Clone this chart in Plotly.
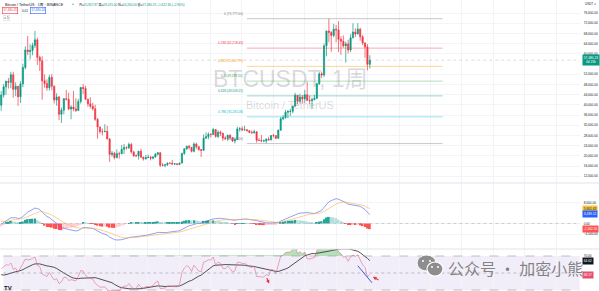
import numpy as np
import pandas as pd
import plotly.graph_objects as go
from plotly.subplots import make_subplots

W, H = 600, 291

# ---------------------------------------------------------------- data
symbol_title = "Bitcoin / TetherUS · 1周 · BINANCE"
watermark_symbol = "BTCUSDT, 1周"
watermark_name = "Bitcoin / TetherUS"
first_week = "2021-08-02"
countdown = "4d 23h"

# weekly closes before the first drawn bar, only used to seed MACD / RSI
warmup_closes = [10680, 10920, 10780, 10670, 11390, 11500, 13030, 13760, 15480, 15960,
                 18410, 18180, 19150, 19270, 23840, 26280, 32180, 38150, 35830, 32260,
                 33090, 38900, 48580, 57410, 45140, 51200, 59000, 57350, 55780, 58200,
                 59770, 56150, 49070, 56620, 58240, 46430, 34660, 35660, 35800, 39100,
                 35500, 34700, 35290, 34260, 31780, 35400, 39850]

opens = [39850, 43800, 47050, 49260, 48810, 51750, 46060, 47260, 43160, 48200, 54660, 61530,
         60850, 61300, 63270, 65470, 58620, 57270, 49400, 48380, 46680, 50780,
         47290, 41860, 43070, 36280, 37900, 42400, 42200, 38350, 39110, 38400, 37780, 41260,
         46820, 46400, 42150, 40380, 39450, 38470, 34300, 31300, 29450, 29450, 29580, 26570,
         20550, 21030, 19300, 20830, 20780, 22580, 23300, 23170, 24440, 21530, 20050, 19990,
         21830, 19420, 18800, 19310, 19420, 19070, 19570, 20630, 21150, 16330, 16280, 16460,
         17110, 17100, 16740, 16840,
         16610, 17130, 20880, 22710, 23740, 23320, 21770, 24630, 23550, 22430, 22130, 26910,
         27470, 28450, 28330, 30300, 27590, 29230, 28880, 26920, 26750, 28070, 27100, 25850,
         26340, 30540, 30580, 30170, 30230, 29870, 29180, 29040, 29410, 26100, 26040, 25830,
         25840, 26530, 26250, 27970, 27920, 26850, 29990, 34500, 35020, 37060, 37380, 37450,
         39460, 43770, 41350, 43000,
         42280, 43930, 41730, 41580, 42030, 42580, 48300, 52140, 51730, 63110, 68960, 68390,
         67210, 69650, 69360, 65660, 64940, 63120, 63890, 61480, 66270, 68510, 67770, 69650,
         66680, 64260, 62680, 55857.87]
highs = [45300, 48140, 49380, 50500, 52920, 52920, 48840, 47380, 49230, 56100, 62930, 67000,
         63700, 64270, 69000, 66340, 59270, 59040, 51940, 50000, 51800, 52090,
         47570, 44500, 43500, 38920, 42660, 45820, 44760, 39840, 45400, 42590, 42330, 47000,
         48190, 47440, 42400, 42980, 40790, 40020, 34800, 31400, 30670, 32400, 31770, 26880,
         21870, 21540, 22530, 21600, 24280, 24670, 23650, 25210, 25040, 21920, 20580, 21860,
         22800, 19700, 20390, 20480, 19950, 19700, 21090, 21480, 21470, 17190, 16820, 17420,
         17430, 18390, 17060, 16970,
         17280, 21260, 23090, 23960, 24250, 23470, 25250, 25130, 23900, 22600, 28390, 29190,
         29180, 28800, 31000, 30490, 30030, 29850, 29000, 27660, 28260, 28450, 27400, 26800,
         31430, 31280, 31500, 31800, 30440, 29990, 29980, 30250, 29690, 26840, 28140, 26400,
         26880, 27490, 28060, 28580, 27990, 30380, 35280, 35980, 38000, 37980, 38420, 39700,
         44700, 43800, 44300, 43800,
         45880, 48970, 43580, 42840, 43880, 48590, 52820, 52990, 64000, 69000, 73777, 68920,
         71770, 71340, 72800, 66870, 67230, 64730, 65500, 67700, 71980, 70000, 72000, 70200,
         67300, 64500, 63800, 59470.00]
lows = [37640, 42800, 43950, 46370, 46500, 42830, 43370, 39600, 40750, 46900, 53880, 59510,
        57820, 59400, 62280, 55600, 53260, 42000, 46700, 45500, 45560, 45680,
        40500, 39650, 34000, 32920, 36250, 41670, 37860, 34320, 37450, 37160, 37560, 40470,
        44200, 42000, 39200, 38530, 37700, 33710, 26700, 28650, 28020, 29300, 26560, 17620,
        19650, 18630, 19000, 18900, 20700, 20700, 22400, 22660, 20760, 19520, 19520, 18510,
        19320, 18125, 18470, 19100, 18190, 18650, 19250, 20050, 15590, 15815, 15476, 16000,
        16880, 16550, 16400, 16330,
        16500, 17100, 20410, 22300, 22500, 21350, 21350, 22760, 21970, 19550, 21890, 26600,
        26500, 27200, 28170, 27130, 26950, 27670, 25810, 26350, 25880, 26500, 25350, 24800,
        26260, 29500, 29710, 29950, 29530, 28860, 28580, 28700, 25166, 25800, 25330, 25330,
        24901, 26000, 25990, 27160, 26540, 26800, 29900, 33940, 34530, 34800, 35630, 36700,
        39420, 40220, 40520, 40500,
        40750, 41500, 40280, 38555, 41800, 42260, 47710, 50520, 50900, 59000, 64530, 60775,
        66460, 64490, 60660, 59600, 62390, 56550, 60190, 60750, 66060, 66600, 67600, 65080,
        63380, 58400, 53500, 54260.00]
closes = [43800, 47050, 49260, 48810, 51750, 46060, 47260, 43160, 48200, 54660, 61530, 60850,
          61300, 63270, 65470, 58620, 57270, 49400, 48380, 46680, 50780, 47290,
          41860, 43070, 36280, 37900, 42400, 42200, 38350, 39110, 38400, 37780, 41260, 46820,
          46400, 42150, 40380, 39450, 38470, 34300, 31300, 29450, 29450, 29580, 26570, 20550,
          21030, 19300, 20830, 20780, 22580, 23300, 23170, 24440, 21530, 20050, 19990, 21830,
          19420, 18800, 19310, 19420, 19070, 19570, 20630, 21150, 16330, 16280, 16460, 17110,
          17100, 16740, 16840, 16610,
          17130, 20880, 22710, 23740, 23320, 21770, 24630, 23550, 22430, 22130, 26910, 27470,
          28450, 28330, 30300, 27590, 29230, 28880, 26920, 26750, 28070, 27100, 25850, 26340,
          30540, 30580, 30170, 30230, 29870, 29180, 29040, 29410, 26100, 26040, 25830, 25840,
          26530, 26250, 27970, 27920, 26850, 29990, 34500, 35020, 37060, 37380, 37450, 39460,
          43770, 41350, 43000, 42280,
          43930, 41730, 41580, 42030, 42580, 48300, 52140, 51730, 63110, 68960, 68390, 67210,
          69650, 69360, 65660, 64940, 63120, 63890, 61480, 66270, 68510, 67770, 69650, 66680,
          64260, 62680, 55857.87, 57480.23]

bid_price = 57480.23
ask_price = 57480.24

# Fibonacci retracement anchors (high / low) and its levels
fib_high = 73777.00
fib_low = 24800.00
fib_ratios = [0, 0.236, 0.382, 0.5, 0.618, 0.786, 1]
fib_colors = ["#787b86", "#f23645", "#ff9800", "#4caf50", "#089981", "#00bcd4", "#787b86"]
fib_span_weeks = (102, 183.2)

price_ticks = list(range(12000, 80000, 4000))
macd_ticks = [8000, 0, -4000]
rsi_ticks = [70, 30]

UP, DOWN = "#089981", "#f23645"
TXT = "#131722"
GRID = "#f3f4f7"

# ---------------------------------------------------------------- indicators
all_close = pd.Series(warmup_closes + closes, dtype=float)
ema_fast = all_close.ewm(span=12, adjust=False).mean()
ema_slow = all_close.ewm(span=26, adjust=False).mean()
macd_all = ema_fast - ema_slow
signal_all = macd_all.ewm(span=9, adjust=False).mean()
hist_all = macd_all - signal_all

delta = all_close.diff().fillna(0)
gain = delta.clip(lower=0).ewm(alpha=1 / 14, adjust=False).mean()
loss = (-delta.clip(upper=0)).ewm(alpha=1 / 14, adjust=False).mean()
rsi_all = 100 - 100 / (1 + gain / loss)
rsi_ma_all = rsi_all.rolling(14).mean()

n = len(closes)
macd = macd_all.iloc[-n:].to_numpy()
signal = signal_all.iloc[-n:].to_numpy()
hist = hist_all.iloc[-n:].to_numpy()
hist_prev = hist_all.shift(1).iloc[-n:].to_numpy()
rsi = rsi_all.iloc[-n:].to_numpy()
rsi_ma = rsi_ma_all.iloc[-n:].to_numpy()

hist_colors = []
for h, hp in zip(hist, hist_prev):
    if h >= 0:
        hist_colors.append("#26a69a" if h > hp else "#b2dfdb")
    else:
        hist_colors.append("#ffcdd2" if h > hp else "#ff5252")

dates = pd.date_range(first_week, periods=n, freq="7D")
t0 = pd.Timestamp(first_week)
week = pd.Timedelta(days=7)
x_range = [t0 + 0.907 * week, t0 + 240.08 * week]

# the live price box covers the scale label it sits on
price_ticks = [t for t in price_ticks if abs(t - closes[-1]) > 2500]

# ---------------------------------------------------------------- figure
def px(x):
    return x / W


def py(y):
    return 1 - y / H


fig = make_subplots(rows=3, cols=1, shared_xaxes=True, vertical_spacing=0)

fig.add_trace(go.Candlestick(
    x=dates, open=opens, high=highs, low=lows, close=closes,
    increasing=dict(line=dict(color=UP, width=0.7), fillcolor=UP),
    decreasing=dict(line=dict(color=DOWN, width=0.7), fillcolor=DOWN),
    whiskerwidth=0, hoverinfo="skip", showlegend=False), row=1, col=1)

fig.add_trace(go.Bar(x=dates, y=hist, marker=dict(color=hist_colors, line_width=0),
                     showlegend=False, hoverinfo="skip"), row=2, col=1)
fig.add_trace(go.Scatter(x=dates, y=macd, mode="lines", line=dict(color="#4a5ef0", width=0.6),
                         showlegend=False, hoverinfo="skip"), row=2, col=1)
fig.add_trace(go.Scatter(x=dates, y=signal, mode="lines", line=dict(color="#f5b24a", width=0.6),
                         showlegend=False, hoverinfo="skip"), row=2, col=1)

# RSI overbought / oversold fills
fig.add_trace(go.Scatter(x=dates, y=[70] * n, mode="lines", line=dict(width=0),
                         showlegend=False, hoverinfo="skip"), row=3, col=1)
fig.add_trace(go.Scatter(x=dates, y=np.maximum(rsi, 70), mode="lines", line=dict(width=0),
                         fill="tonexty", fillcolor="rgba(76,175,80,0.40)",
                         showlegend=False, hoverinfo="skip"), row=3, col=1)
fig.add_trace(go.Scatter(x=dates, y=[30] * n, mode="lines", line=dict(width=0),
                         showlegend=False, hoverinfo="skip"), row=3, col=1)
fig.add_trace(go.Scatter(x=dates, y=np.minimum(rsi, 30), mode="lines", line=dict(width=0),
                         fill="tonexty", fillcolor="rgba(242,54,69,0.30)",
                         showlegend=False, hoverinfo="skip"), row=3, col=1)
fig.add_trace(go.Scatter(x=dates, y=rsi_ma, mode="lines", line=dict(color="#3d3d3d", width=0.9),
                         showlegend=False, hoverinfo="skip"), row=3, col=1)
fig.add_trace(go.Scatter(x=dates, y=rsi, mode="lines", line=dict(color="#e06b8b", width=0.6),
                         showlegend=False, hoverinfo="skip"), row=3, col=1)

price_dom = [py(183), 1.0]
macd_dom = [py(249), py(183)]
rsi_dom = [0.0, py(249)]

axis_font = dict(family="Liberation Sans, Arial", size=3.2, color=TXT)
common_y = dict(side="right", showline=False, zeroline=False, ticks="outside", ticklen=2,
                tickcolor="rgba(0,0,0,0)", tickfont=axis_font, gridcolor=GRID, gridwidth=1,
                fixedrange=True)
fig.update_layout(
    width=W, height=H, margin=dict(l=0, r=0, t=0, b=0),
    paper_bgcolor="white", plot_bgcolor="white", bargap=0.25,
    showlegend=False,
    xaxis=dict(domain=[0, px(580)], range=x_range, showticklabels=False, rangeslider=dict(visible=False),
               showgrid=True, gridcolor=GRID, tick0="2021-01-01", dtick="M3", zeroline=False),
    xaxis2=dict(domain=[0, px(580)], showticklabels=False, showgrid=True, gridcolor=GRID,
                tick0="2021-01-01", dtick="M3", zeroline=False),
    xaxis3=dict(domain=[0, px(580)], showticklabels=False, showgrid=True, gridcolor=GRID,
                tick0="2021-01-01", dtick="M3", zeroline=False),
    yaxis=dict(domain=price_dom, range=[9333, 81098], tickvals=price_ticks, tickformat=",.2f", **common_y),
    yaxis2=dict(domain=macd_dom, range=[-9700, 15400], tickvals=macd_ticks, tickformat=",.2f", **common_y),
    yaxis3=dict(domain=rsi_dom, range=[28.82, 78.24], tickvals=rsi_ticks, tickformat=".2f",
                **{**common_y, "showgrid": False}),
)

shapes = []
# pane separators and window edge
for yy in (183, 249):
    shapes.append(dict(type="line", xref="paper", yref="paper", x0=0, x1=1, y0=py(yy), y1=py(yy),
                       line=dict(color="#e0e3eb", width=1)))
shapes.append(dict(type="line", xref="paper", yref="paper", x0=px(599.5), x1=px(599.5), y0=0, y1=1,
                   line=dict(color="#d1d4dc", width=1)))
# current price line
shapes.append(dict(type="line", xref="x", yref="y", x0=x_range[0], x1=x_range[1],
                   y0=closes[-1], y1=closes[-1], line=dict(color="#9aa5a2", width=0.7, dash="dot"),
                   opacity=0.5))
# MACD zero line
shapes.append(dict(type="line", xref="x2", yref="y2", x0=x_range[0], x1=x_range[1], y0=0, y1=0,
                   line=dict(color="#b2b5be", width=0.6, dash="dot")))
# RSI bands
shapes.append(dict(type="rect", xref="x3", yref="y3", x0=x_range[0], x1=x_range[1], y0=30, y1=70,
                   fillcolor="rgba(126,87,194,0.10)", line_width=0, layer="below"))
for lvl, dash in ((70, "dash"), (50, "dot"), (30, "dash")):
    shapes.append(dict(type="line", xref="x3", yref="y3", x0=x_range[0], x1=x_range[1], y0=lvl, y1=lvl,
                       line=dict(color="#9598a1", width=0.6, dash=dash)))

annotations = []

# Fibonacci retracement
fx0 = t0 + fib_span_weeks[0] * week
fx1 = t0 + fib_span_weeks[1] * week
for r, c in zip(fib_ratios, fib_colors):
    lvl = fib_high - r * (fib_high - fib_low)
    shapes.append(dict(type="line", xref="x", yref="y", x0=fx0, x1=fx1, y0=lvl, y1=lvl,
                       line=dict(color=c, width=1), opacity=0.4))
    annotations.append(dict(xref="x", yref="y", x=fx0, y=lvl, text=f"{r:g} ({lvl:,.2f})",
                            showarrow=False, xanchor="right", yanchor="bottom", xshift=-2, yshift=1,
                            font=dict(family="Liberation Sans, Arial", size=3.2, color=c)))

# watermark
annotations.append(dict(xref="paper", yref="paper", x=px(290), y=py(79), text=watermark_symbol,
                        showarrow=False, yanchor="middle",
                        font=dict(family="Liberation Sans, Noto Sans CJK SC", size=23,
                                  color="rgba(120,123,134,0.28)")))
annotations.append(dict(xref="paper", yref="paper", x=px(290), y=py(105), text=watermark_name,
                        showarrow=False, yanchor="middle",
                        font=dict(family="Liberation Sans, Arial", size=11,
                                  color="rgba(120,123,134,0.28)")))

# legend header
annotations.append(dict(xref="paper", yref="paper", x=px(2.5), y=py(4.2), text=symbol_title,
                        showarrow=False, xanchor="left", yanchor="middle",
                        font=dict(family="Liberation Sans, Noto Sans CJK SC", size=3.7, color=TXT)))
annotations.append(dict(xref="paper", yref="paper", x=px(73), y=py(4.2), text="●",
                        showarrow=False, xanchor="center", yanchor="middle",
                        font=dict(size=3, color=UP)))
o, h, l, c = opens[-1], highs[-1], lows[-1], closes[-1]
chg = c - closes[-2]
pct = chg / closes[-2] * 100
col = UP if chg >= 0 else DOWN
ohlc_txt = (f"开=<span style='color:{col}'>{o:,.2f}</span> 高=<span style='color:{col}'>{h:,.2f}</span> "
            f"低=<span style='color:{col}'>{l:,.2f}</span> 收=<span style='color:{col}'>{c:,.2f}</span> "
            f"<span style='color:{col}'>{chg:+,.2f} ({pct:+.2f}%)</span>")
annotations.append(dict(xref="paper", yref="paper", x=px(77), y=py(4.2), text=ohlc_txt,
                        showarrow=False, xanchor="left", yanchor="middle",
                        font=dict(family="Liberation Sans, Noto Sans CJK SC", size=3.1, color=TXT)))
annotations.append(dict(xref="paper", yref="paper", x=px(10), y=py(11), text=f"{bid_price:,.2f}",
                        showarrow=False, xanchor="center", yanchor="middle", bordercolor=DOWN,
                        borderwidth=0.6, borderpad=0.8, bgcolor="white",
                        font=dict(family="Liberation Sans, Arial", size=3, color=DOWN)))
annotations.append(dict(xref="paper", yref="paper", x=px(24.5), y=py(11), text=f"{ask_price - bid_price:.2f}",
                        showarrow=False, xanchor="center", yanchor="middle",
                        font=dict(family="Liberation Sans, Arial", size=3, color=TXT)))
annotations.append(dict(xref="paper", yref="paper", x=px(38), y=py(11), text=f"{ask_price:,.2f}",
                        showarrow=False, xanchor="center", yanchor="middle", bordercolor="#2962ff",
                        borderwidth=0.6, borderpad=0.8, bgcolor="white",
                        font=dict(family="Liberation Sans, Arial", size=3, color="#2962ff")))
annotations.append(dict(xref="paper", yref="paper", x=px(6.5), y=py(18), text="∧ 5",
                        showarrow=False, xanchor="center", yanchor="middle", bordercolor="#d1d4dc",
                        borderwidth=0.5, borderpad=0.6,
                        font=dict(family="Liberation Sans, Arial", size=3, color=TXT)))
annotations.append(dict(xref="paper", yref="paper", x=px(583), y=py(4.2), text="USDT ∨",
                        showarrow=False, xanchor="left", yanchor="middle",
                        font=dict(family="Liberation Sans, Arial", size=3, color=TXT)))

# value boxes on the scales
def scale_box(yref, val, text, bg, fg):
    annotations.append(dict(xref="paper", yref=yref, x=px(581.5), y=val, text=text, showarrow=False,
                            xanchor="left", yanchor="middle", bgcolor=bg, borderpad=0.8,
                            font=dict(family="Liberation Sans, Arial", size=3.2, color=fg)))


scale_box("y", closes[-1], f"{closes[-1]:,.2f}<br>{countdown}", UP, "white")
scale_box("y2", signal[-1], f"{signal[-1]:,.2f}", "#f6c343", TXT)
scale_box("y2", macd[-1], f"{macd[-1]:,.2f}", "#2962ff", "white")
scale_box("y2", hist[-1], f"{hist[-1]:,.2f}", "#ff5252", "white")
scale_box("y3", rsi_ma[-1], f"{rsi_ma[-1]:.2f}", "#131722", "white")
scale_box("y3", rsi[-1], f"{rsi[-1]:.2f}", "#e5506f", "white")

# hand-drawn marks on the RSI pane
shapes.append(dict(type="line", xref="x3", yref="y3", x0=t0 + 148 * week, y0=58.5,
                   x1=t0 + 153.9 * week, y1=38.5, line=dict(color="#3b5bdb", width=1)))
annotations.append(dict(xref="x3", yref="y3", x=t0 + 111.2 * week, y=37.5, ax=-3, ay=-7,
                        showarrow=True, arrowhead=2, arrowsize=0.6, arrowwidth=1.2,
                        arrowcolor="#e53935", text=""))
annotations.append(dict(xref="x3", yref="y3", x=t0 + 154.3 * week, y=45.5, ax=7, ay=4,
                        showarrow=True, arrowhead=2, arrowsize=0.6, arrowwidth=1.2,
                        arrowcolor="#e53935", text=""))

# WeChat account watermark
shapes.append(dict(type="circle", xref="paper", yref="paper", x0=px(417), x1=px(436), y0=py(271), y1=py(255),
                   fillcolor="#8e8e8e", line=dict(color="white", width=1)))
shapes.append(dict(type="circle", xref="paper", yref="paper", x0=px(427), x1=px(443), y0=py(276), y1=py(262),
                   fillcolor="#8e8e8e", line=dict(color="white", width=1.2)))
for ex, ey in ((423, 261), (430, 261), (432, 267), (438, 267)):
    shapes.append(dict(type="circle", xref="paper", yref="paper", x0=px(ex - 1), x1=px(ex + 1),
                       y0=py(ey + 1), y1=py(ey - 1), fillcolor="white", line_width=0))
annotations.append(dict(xref="paper", yref="paper", x=px(446), y=py(268), text="公众号 · 加密小熊",
                        showarrow=False, xanchor="left", yanchor="middle",
                        font=dict(family="Noto Sans CJK SC", size=16, color="rgba(110,110,110,0.85)")))

# platform logo at the pane corner
annotations.append(dict(xref="paper", yref="paper", x=px(2), y=py(282.5), text="<b>TV</b>",
                        showarrow=False, xanchor="left", yanchor="top",
                        font=dict(family="Liberation Sans, Arial", size=6, color="#131722")))

fig.update_layout(shapes=shapes, annotations=annotations)
fig.write_html("out.html")
